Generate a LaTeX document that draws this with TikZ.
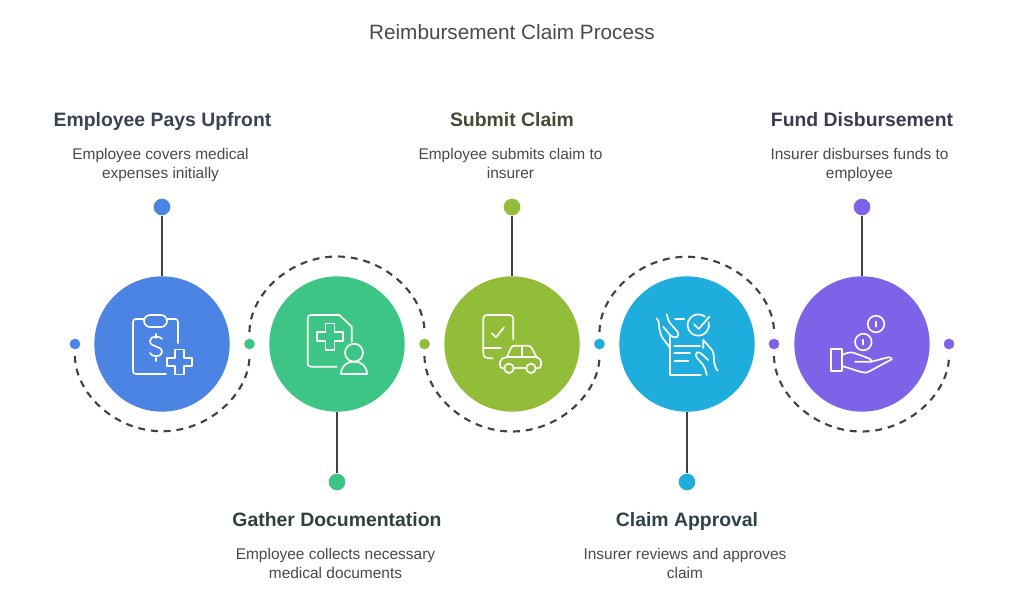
\documentclass[tikz,border=0pt]{standalone}
\usepackage{fontspec}
\setmainfont{Liberation Sans}
\definecolor{cblue}{HTML}{4C84E4}
\definecolor{cgreen}{HTML}{3CC585}
\definecolor{colive}{HTML}{92BD39}
\definecolor{csky}{HTML}{1EADDD}
\definecolor{cpurple}{HTML}{7E62E8}
\definecolor{lineclr}{HTML}{424242}
\definecolor{txtclr}{HTML}{4A4A4A}
\definecolor{hA}{HTML}{3A4354}
\definecolor{hB}{HTML}{2F4238}
\definecolor{hC}{HTML}{454A33}
\definecolor{hD}{HTML}{2E424A}
\definecolor{hE}{HTML}{3C3A52}
\tikzset{
  big/.style={circle,draw=none,fill=#1,minimum size=101.5pt,inner sep=0pt},
  small/.style={circle,draw=none,fill=#1,minimum size=8pt,inner sep=0pt},
  end/.style={circle,draw=none,fill=#1,minimum size=12.5pt,inner sep=0pt},
  stem/.style={draw=lineclr,line width=1.8pt},
  ring/.style={draw=lineclr,line width=1.6pt,dash pattern=on 5.2pt off 4.4pt,shorten <=9pt,shorten >=9pt},
  icon/.style={draw=white,line width=1.25pt,line cap=round,line join=round},
  head/.style={font=\fontsize{14.55pt}{18pt}\bfseries\selectfont,text=#1,inner sep=0pt,anchor=base},
  body/.style={font=\fontsize{11.6pt}{14.25pt}\selectfont,text=txtclr,align=center,inner sep=0pt,anchor=base},
  title/.style={font=\fontsize{15.55pt}{18pt}\selectfont,text=txtclr,inner sep=0pt,anchor=base}
}
\begin{document}
\begin{tikzpicture}[x=.75pt,y=-.75pt]
\useasboundingbox (0,0) rectangle (1024,614);
\fill[white] (0,0) rectangle (1024,614);
\node[title] (ttl) at (512,39) {Reimbursement Claim Process};
% big circles
\node[big=cblue] (c1) at (162,344) {};
\node[big=cgreen] (c2) at (337,344) {};
\node[big=colive] (c3) at (512,344) {};
\node[big=csky] (c4) at (687,344) {};
\node[big=cpurple] (c5) at (862,344) {};
% small ring dots
\node[small=cblue] (d0) at (75,344) {};
\node[small=cgreen] (d1) at (249.5,344) {};
\node[small=colive] (d2) at (424.5,344) {};
\node[small=csky] (d3) at (599.5,344) {};
\node[small=cpurple] (d4) at (774,344) {};
\node[small=cpurple] (d5) at (949,344) {};
% rings
\draw[ring] (d0.center) arc[start angle=180,end angle=0,radius=87.25];
\draw[ring] (d1.center) arc[start angle=180,end angle=360,radius=87.5];
\draw[ring] (d2.center) arc[start angle=180,end angle=0,radius=87.5];
\draw[ring] (d3.center) arc[start angle=180,end angle=360,radius=87.25];
\draw[ring] (d4.center) arc[start angle=180,end angle=0,radius=87.5];
% stems
\node[end=cblue] (e1) at (162,207) {};
\node[end=cgreen] (e2) at (337,482) {};
\node[end=colive] (e3) at (512,207) {};
\node[end=csky] (e4) at (687,482) {};
\node[end=cpurple] (e5) at (862,207) {};
\draw[stem] (e1) -- (c1);
\draw[stem] (e2) -- (c2);
\draw[stem] (e3) -- (c3);
\draw[stem] (e4) -- (c4);
\draw[stem] (e5) -- (c5);
% texts
\node[head=hA] (h1) at (162.5,126.5) {Employee Pays Upfront};
\node[body] (b1) at (160.5,178) {Employee covers medical\\expenses initially};
\node[head=hB] (h2) at (337,526.5) {Gather Documentation};
\node[body] (b2) at (335.5,578) {Employee collects necessary\\medical documents};
\node[head=hC] (h3) at (512,126.5) {Submit Claim};
\node[body] (b3) at (510.5,178) {Employee submits claim to\\insurer};
\node[head=hD] (h4) at (687,526.5) {Claim Approval};
\node[body] (b4) at (685,578) {Insurer reviews and approves\\claim};
\node[head=hE] (h5) at (862,126.5) {Fund Disbursement};
\node[body] (b5) at (859.5,178) {Insurer disburses funds to\\employee};
% icon 1: clipboard
\draw[icon] (178,343) -- (178,322) .. controls (178,320) and (177,319) .. (175,319) -- (167,319);
\draw[icon] (144,319) -- (136,319) .. controls (134,319) and (133,320) .. (133,322) -- (133,371) .. controls (133,373) and (134,374) .. (136,374) -- (166,374);
\draw[icon,rounded corners=4.5pt] (144,315) rectangle (167,327);
\draw[icon] (162,339) .. controls (161,336) and (150,335) .. (150,341) .. controls (150,348) and (162,345) .. (162,352) .. controls (162,358) and (151,357) .. (150,353);
\draw[icon] (156,334) -- (156,338) (156,358) -- (156,361);
\draw[icon] (174.7,349.5) -- (184,349.5) -- (184,357.7) -- (192,357.7) -- (192,366.3) -- (184,366.3) -- (184,374.5) -- (174.7,374.5) -- (174.7,366.3) -- (166.7,366.3) -- (166.7,357.7) -- (174.7,357.7) -- cycle;
% icon 2: document with person
\draw[icon] (336.7,366.7) -- (311,366.7) .. controls (309,366.7) and (307.7,365.5) .. (307.7,363.5) -- (307.7,318) .. controls (307.7,316) and (309,315) .. (311,315) -- (339.3,315) -- (351.7,326.7) -- (351.7,341.7);
\draw[icon] (325.5,323.4) -- (334.5,323.4) -- (334.5,332.2) -- (343.3,332.2) -- (343.3,341.2) -- (334.5,341.2) -- (334.5,350) -- (325.5,350) -- (325.5,341.2) -- (316.7,341.2) -- (316.7,332.2) -- (325.5,332.2) -- cycle;
\draw[icon] (354,352.7) circle[radius=9];
\draw[icon] (341,374) .. controls (341,366) and (347,361.5) .. (354,361.5) .. controls (361,361.5) and (367,366) .. (367,374) -- cycle;
% icon 3: phone and car
\draw[icon] (513.3,339.3) -- (513.3,319) .. controls (513.3,316.5) and (512,315) .. (509.5,315) -- (487,315) .. controls (484.5,315) and (483.3,316.5) .. (483.3,319) -- (483.3,353) .. controls (483.3,356.5) and (485.5,358.3) .. (488,358.3) -- (492.7,358.3);
\draw[icon] (483.3,348.3) -- (501,348.3);
\draw[icon] (491.7,333.3) -- (496,337.3) -- (504,327.3);
\draw[icon] (509,368.3) circle[radius=4.7];
\draw[icon] (531,368.3) circle[radius=4.7];
\draw[icon] (504.3,368.3) -- (503,368.3) .. controls (501,368.3) and (500,367) .. (500,365) -- (500,362) .. controls (500,359) and (503,358) .. (506.7,357.3) -- (511,348) .. controls (511.7,346.5) and (513,345.7) .. (514.5,345.7) -- (528,345.7) .. controls (530,345.7) and (531,346.5) .. (531.7,348) -- (536.7,357.3) .. controls (539.5,358) and (541,359.5) .. (541,362) -- (541,365) .. controls (541,367) and (540,368.3) .. (538,368.3) -- (535.7,368.3);
\draw[icon] (513.7,368.3) -- (526.3,368.3);
\draw[icon] (506.7,357.3) -- (536.7,357.3);
\draw[icon] (521.7,345.7) -- (521.7,357.3);
% icon 4: hands and checklist
\draw[icon] (670,336.7) -- (670,375) -- (701,375);
\draw[icon] (674.3,345.7) -- (700,345.7);
\draw[icon] (674.3,353.3) -- (690,353.3);
\draw[icon] (674.3,361) -- (688.3,361);
\draw[icon] (675,319.3) -- (684.3,319.3);
\draw[icon] (705,316.7) arc[start angle=-51,end angle=-375,radius=10.7];
\draw[icon] (694,324.3) -- (698.7,329) -- (709.3,316.7);
\draw[icon] (656.7,318.3) .. controls (659,321) and (659.3,325) .. (659.3,328.3) .. controls (660,332) and (661,335) .. (661.7,336.7) -- (670,348);
\draw[icon] (666.7,314.3) .. controls (668,318) and (668,321) .. (670,323.3) -- (677,331) .. controls (679,334) and (679,337) .. (676.7,337.3) .. controls (674,338) and (672,336.5) .. (670,335) -- (663.3,326.7);
\draw[icon] (703.3,348) -- (703.3,340) -- (712,350) .. controls (714,353) and (714,358) .. (714,361) .. controls (714.5,365) and (716,369) .. (717.7,370.7);
\draw[icon] (706.7,375) .. controls (706,371) and (705,367.5) .. (703.3,365) -- (697,358) .. controls (695,356) and (695.5,352.5) .. (697.3,352.3) .. controls (699,352) and (700.5,353) .. (701.7,354) -- (708.3,360);
% icon 5: hand and coins
\draw[icon] (876,324) circle[radius=8.3];
\draw[icon] (876,321.7) -- (876,326.7);
\draw[icon] (863.3,342) circle[radius=8.3];
\draw[icon] (863.3,339.7) -- (863.3,344.7);
\draw[icon] (831,349.3) rectangle (842.3,370.7);
\draw[icon] (842.3,355) .. controls (846,353) and (850,352) .. (853.3,352.7) -- (868,358) .. controls (871,359) and (872,361) .. (871,361.7) -- (855,361.7);
\draw[icon] (871,361.7) -- (888.3,357.3) .. controls (890,357) and (892,358) .. (891.7,359.3) -- (870,371) .. controls (867,373) and (864,373) .. (861,372) -- (842.3,366);
\end{tikzpicture}
\end{document}
